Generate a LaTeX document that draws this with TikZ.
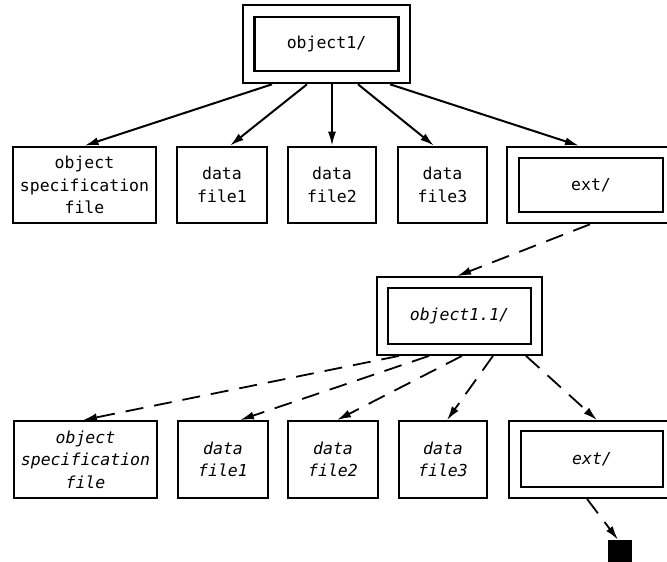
\documentclass[tikz,border=0pt]{standalone}
\usepackage{fontspec}
\setmonofont{DejaVu Sans Mono}[ItalicFont={DejaVu Sans Mono Oblique}]
\usetikzlibrary{arrows.meta}

\begin{document}
\begin{tikzpicture}[x=1pt, y=-1pt,
  file/.style={rectangle, draw, line width=2.6pt, minimum height=76pt, align=center, inner sep=0pt, font=\fontsize{16.5}{22.5}\selectfont\ttfamily},
  dirout/.style={rectangle, draw, line width=2.6pt, minimum width=167pt, minimum height=78pt, inner sep=0pt},
  dirin/.style={rectangle, draw, line width=2.6pt, minimum width=144pt, minimum height=54pt, inner sep=0pt, font=\fontsize{16.5}{22.5}\selectfont\ttfamily},
  sub/.style={line width=1.8pt, font=\fontsize{16.5}{22.5}\selectfont\ttfamily\itshape},
  link/.style={-{Latex[length=14pt,width=8pt]}, line width=2pt},
  extlink/.style={link, line width=1.8pt, dash pattern=on 18pt off 11pt}
]
\useasboundingbox (0,0) rectangle (667,562);

% top level
\node[dirout] (obj) at (326.5,44) {};
\node[dirin] (objin) at (obj) {object1/};

\node[file, minimum width=143pt] (spec) at (84.5,185) {object\\specification\\file};
\node[file, minimum width=90pt] (f1) at (222,185) {data\\file1};
\node[file, minimum width=88pt] (f2) at (332,185) {data\\file2};
\node[file, minimum width=89pt] (f3) at (442.5,185) {data\\file3};
\node[dirout, minimum width=168pt, minimum height=76pt] (ext) at (591,185) {};
\node[dirin] (extin) at (ext) {ext/};

\draw[link] ([xshift=-54.5pt]obj.south) -- (spec.north);
\draw[link] ([xshift=-19.5pt]obj.south) -- ([xshift=8pt]f1.north);
\draw[link] ([xshift=5.5pt]obj.south) -- (f2.north);
\draw[link] ([xshift=31.5pt]obj.south) -- ([xshift=-8.5pt]f3.north);
\draw[link] ([xshift=63.5pt]obj.south) -- ([xshift=-12pt]ext.north);

% extension level
\node[dirout, sub, minimum width=165pt] (sobj) at (459.5,316) {};
\node[dirin, sub, minimum width=143pt, minimum height=56pt] (sobjin) at (sobj) {object1.1/};

\draw[extlink] ([xshift=-1pt]ext.south) -- ([xshift=-2.5pt]sobj.north);

\node[file, sub, minimum width=143pt, minimum height=77pt] (sspec) at (85.5,459.5) {object\\specification\\file};
\node[file, sub, minimum width=90pt, minimum height=77pt] (g1) at (223,459.5) {data\\file1};
\node[file, sub, minimum width=90pt, minimum height=77pt] (g2) at (333,459.5) {data\\file2};
\node[file, sub, minimum width=88pt, minimum height=77pt] (g3) at (443,459.5) {data\\file3};
\node[dirout, sub, minimum width=168pt, minimum height=77pt] (sext) at (593,459.5) {};
\node[dirin, sub, minimum width=142pt, minimum height=56pt] (sextin) at (592,459) {ext/};

\draw[extlink] ([xshift=-60.5pt]sobj.south) -- ([xshift=-2.5pt]sspec.north);
\draw[extlink] ([xshift=-30.5pt]sobj.south) -- ([xshift=17pt]g1.north);
\draw[extlink] ([xshift=2.5pt]sobj.south) -- ([xshift=4pt]g2.north);
\draw[extlink] ([xshift=33.5pt]sobj.south) -- ([xshift=4pt]g3.north);
\draw[extlink] ([xshift=66.5pt]sobj.south) -- ([xshift=4pt]sext.north);

\node[fill, minimum width=24pt, minimum height=30pt, inner sep=0pt] (more) at (620,555) {};
\draw[extlink] ([xshift=-6pt]sext.south) -- ([xshift=-2pt]more.north);
\end{tikzpicture}
\end{document}
